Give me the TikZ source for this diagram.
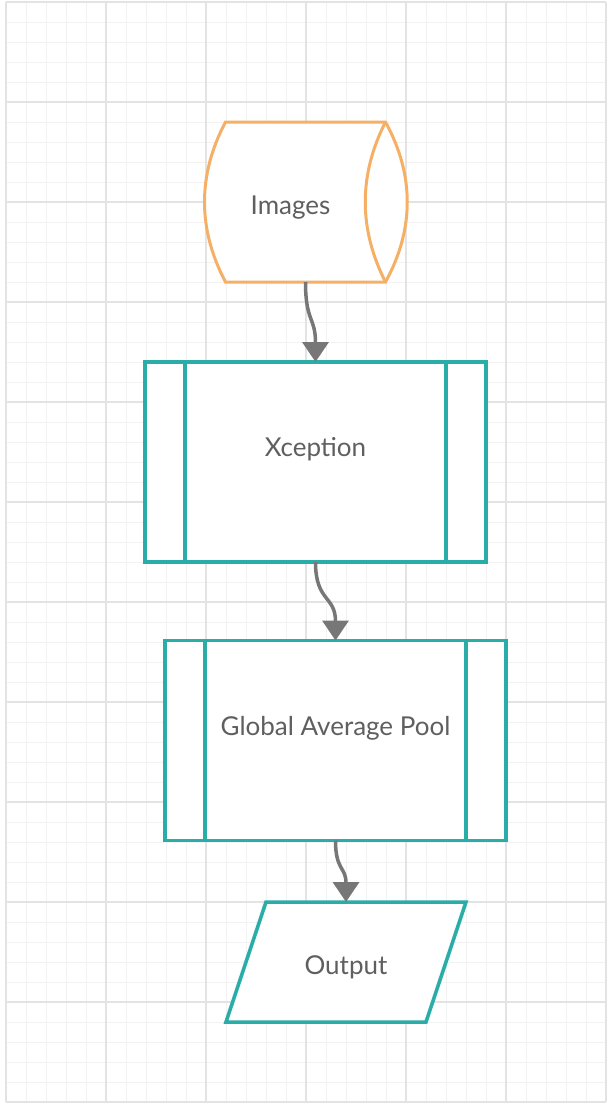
\documentclass[tikz,border=0pt]{standalone}
\usepackage{fontspec}
\setmainfont{Lato}
\usetikzlibrary{arrows.meta}
\definecolor{lucorange}{HTML}{F5B066}
\definecolor{lucteal}{HTML}{2AADA9}
\definecolor{lucgray}{HTML}{777777}
\definecolor{luctext}{HTML}{5F5F5F}
\begin{document}
\begin{tikzpicture}[x=1pt,y=-1pt,
    minorgrid/.style={draw=black!5,line width=1pt},
    majorgrid/.style={draw=black!11,line width=1.6pt},
    labelfont/.style={text=luctext,font=\fontsize{26}{30}\selectfont},
    store/.style={rectangle,minimum width=159pt,minimum height=160pt,outer sep=0pt,
        text height=26pt,text depth=1pt,execute at begin node={\hspace*{-30pt}},labelfont},
    storeline/.style={draw=lucorange,line width=3pt},
    proc/.style={rectangle,draw=lucteal,line width=3.5pt,fill=white,
        minimum width=341pt,minimum height=200pt,outer sep=0pt,
        text height=8pt,text depth=19pt,labelfont},
    procside/.style={draw=lucteal,line width=3.5pt},
    io/.style={rectangle,minimum width=240pt,minimum height=120pt,outer sep=0pt,
        text height=26pt,text depth=1pt,labelfont},
    flow/.style={draw=lucgray,line width=3.5pt,-{Triangle[width=26pt,length=20pt]}}]
    \useasboundingbox[fill=white] (0,0) rectangle (612,1104);
    
    % background grid
    \foreach \gx in {6,26,...,606} \draw[minorgrid] (\gx,2) -- (\gx,1102);
    \foreach \gy in {2,22,...,1102} \draw[minorgrid] (6,\gy) -- (606,\gy);
    \foreach \gx in {6,106,...,606} \draw[majorgrid] (\gx,2) -- (\gx,1102);
    \foreach \gy in {2,102,...,1102} \draw[majorgrid] (6,\gy) -- (606,\gy);
    
    % stored data shape
    \path[storeline,fill=white] (225.5,122) -- (385.5,122) .. controls +(29,53) and +(29,-53) .. (385.5,282) -- (225.5,282) .. controls +(-28,-53) and +(-28,53) .. cycle;
    \draw[storeline] (385.5,122) .. controls +(-27,53) and +(-27,-53) .. (385.5,282);
    \node[store] (imgs) at (305.5,202) {Images};
    
    \node[proc] (xcep) at (315.5,462) {Xception};
    \node[proc] (gap) at (335.5,740.5) {Global Average Pool};
    
    \draw[procside] ([xshift=40pt]xcep.north west) -- ([xshift=40pt]xcep.south west);
    \draw[procside] ([xshift=-40pt]xcep.north east) -- ([xshift=-40pt]xcep.south east);
    \draw[procside] ([xshift=40pt]gap.north west) -- ([xshift=40pt]gap.south west);
    \draw[procside] ([xshift=-40pt]gap.north east) -- ([xshift=-40pt]gap.south east);
    
    % output parallelogram
    \coordinate (outc) at (346,962);
    \draw[procside,fill=white] ([shift={(-80,-60)}]outc) -- ([shift={(120,-60)}]outc) -- ([shift={(80,60)}]outc) -- ([shift={(-120,60)}]outc) -- cycle;
    \node[io] (out) at (outc) {Output};
    
    \draw[flow] (imgs.south) .. controls +(0,40) and +(0,-45) .. (xcep.north);
    \draw[flow] (xcep.south) .. controls +(0,40) and +(0,-45) .. (gap.north);
    \draw[flow] (gap.south) .. controls +(0,30) and +(0,-35) .. (out.north);
\end{tikzpicture}
\end{document}
